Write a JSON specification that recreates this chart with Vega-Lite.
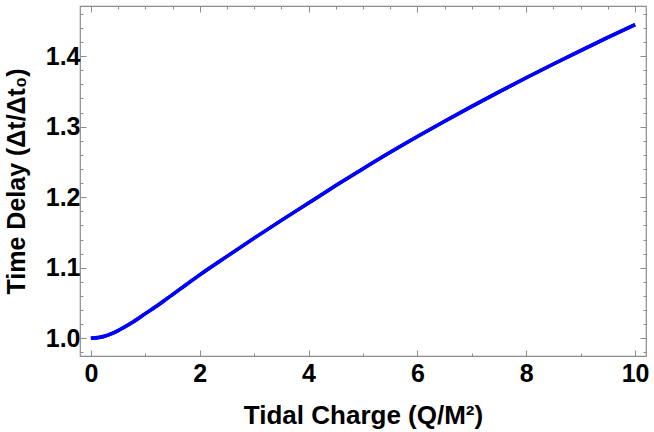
{
  "$schema": "https://vega.github.io/schema/vega-lite/v6.json",
  "width": 566,
  "height": 350,
  "autosize": {"type": "none"},
  "padding": {"left": 80, "top": 6, "right": 8, "bottom": 76},
  "config": {
    "view": {"stroke": "#8c8c8c", "strokeWidth": 1.2},
    "font": "Liberation Sans",
    "axis": {
      "grid": false,
      "domain": false,
      "tickColor": "#8c8c8c",
      "tickWidth": 1,
      "labelFont": "Liberation Sans",
      "labelFontWeight": "bold",
      "labelFontSize": 25,
      "labelColor": "#000000",
      "labelFlush": false,
      "labelOverlap": false,
      "titleFont": "Liberation Sans",
      "titleFontWeight": "bold",
      "titleFontSize": 25,
      "titleColor": "#000000"
    }
  },
  "data": {
    "values": [
      {"q": 0, "t": 1.0},
      {"q": 0.25, "t": 1.003},
      {"q": 0.5, "t": 1.011},
      {"q": 0.75, "t": 1.022},
      {"q": 1.0, "t": 1.035},
      {"q": 1.25, "t": 1.048},
      {"q": 1.5, "t": 1.062},
      {"q": 1.75, "t": 1.076},
      {"q": 2.0, "t": 1.09},
      {"q": 2.5, "t": 1.1162},
      {"q": 3.0, "t": 1.142},
      {"q": 3.5, "t": 1.1672},
      {"q": 4.0, "t": 1.1918},
      {"q": 4.5, "t": 1.2165},
      {"q": 5.0, "t": 1.2405},
      {"q": 5.5, "t": 1.2638},
      {"q": 6.0, "t": 1.2862},
      {"q": 6.5, "t": 1.3078},
      {"q": 7.0, "t": 1.3288},
      {"q": 7.5, "t": 1.3493},
      {"q": 8.0, "t": 1.3693},
      {"q": 8.5, "t": 1.3888},
      {"q": 9.0, "t": 1.4078},
      {"q": 9.5, "t": 1.4265},
      {"q": 10.0, "t": 1.4447}
    ]
  },
  "layer": [
    {
      "mark": {"type": "line", "color": "#0000ff", "strokeWidth": 3.5, "interpolate": "monotone"},
      "encoding": {
        "x": {
          "field": "q", "type": "quantitative",
          "scale": {"domain": [-0.2, 10.2], "nice": false, "zero": false},
          "axis": {
            "orient": "bottom",
            "title": "Tidal Charge (Q/M²)",
            "titleFontSize": 26,
            "values": [0, 0.5, 1, 1.5, 2, 2.5, 3, 3.5, 4, 4.5, 5, 5.5, 6, 6.5, 7, 7.5, 8, 8.5, 9, 9.5, 10],
            "format": "d",
            "labelExpr": "datum.value % 2 === 0 ? datum.label : ''",
            "tickSize": {"condition": {"test": "datum.value % 2 === 0", "value": -6}, "value": -3},
            "labelPadding": 11,
            "titlePadding": 13
          }
        },
        "y": {
          "field": "t", "type": "quantitative",
          "scale": {"domain": [0.975, 1.471], "nice": false, "zero": false},
          "axis": {
            "orient": "left",
            "title": "Time Delay (Δt/Δt₀)",
            "values": [0.98, 1, 1.02, 1.04, 1.06, 1.08, 1.1, 1.12, 1.14, 1.16, 1.18, 1.2, 1.22, 1.24, 1.26, 1.28, 1.3, 1.32, 1.34, 1.36, 1.38, 1.4, 1.42, 1.44, 1.46],
            "format": ".1f",
            "labelExpr": "abs(datum.value*10 - round(datum.value*10)) < 0.001 ? datum.label : ''",
            "tickSize": {"condition": {"test": "abs(datum.value*10 - round(datum.value*10)) < 0.001", "value": -6}, "value": -3},
            "labelPadding": 6,
            "titlePadding": 16
          }
        }
      }
    },
    {
      "mark": {"type": "line", "color": "#0000ff", "strokeWidth": 3.5, "interpolate": "monotone"},
      "encoding": {
        "x": {
          "field": "q", "type": "quantitative",
          "axis": {
            "orient": "top",
            "title": null,
            "labels": false,
            "values": [0, 0.5, 1, 1.5, 2, 2.5, 3, 3.5, 4, 4.5, 5, 5.5, 6, 6.5, 7, 7.5, 8, 8.5, 9, 9.5, 10],
            "tickSize": {"condition": {"test": "datum.value % 2 === 0", "value": -6}, "value": -3}
          }
        },
        "y": {
          "field": "t", "type": "quantitative",
          "axis": {
            "orient": "right",
            "title": null,
            "labels": false,
            "values": [0.98, 1, 1.02, 1.04, 1.06, 1.08, 1.1, 1.12, 1.14, 1.16, 1.18, 1.2, 1.22, 1.24, 1.26, 1.28, 1.3, 1.32, 1.34, 1.36, 1.38, 1.4, 1.42, 1.44, 1.46],
            "tickSize": {"condition": {"test": "abs(datum.value*10 - round(datum.value*10)) < 0.001", "value": -6}, "value": -3}
          }
        }
      }
    }
  ],
  "resolve": {"axis": {"x": "independent", "y": "independent"}}
}
